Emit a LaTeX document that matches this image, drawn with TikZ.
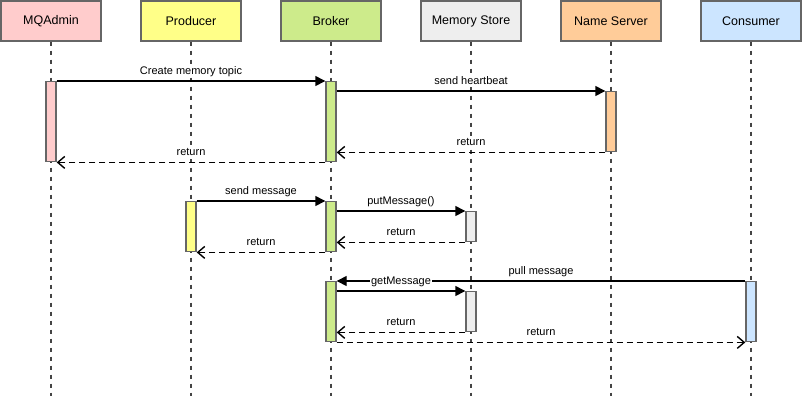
\documentclass[tikz,border=0pt]{standalone}
\usepackage{fontspec}
\setmainfont{Liberation Sans}
\usetikzlibrary{arrows.meta}
\definecolor{adminred}{HTML}{FFCCCC}
\definecolor{prodyellow}{HTML}{FFFF88}
\definecolor{brokergreen}{HTML}{CDEB8B}
\definecolor{storegray}{HTML}{EEEEEE}
\definecolor{nsorange}{HTML}{FFCC99}
\definecolor{consblue}{HTML}{CCE5FF}
\definecolor{edgegray}{HTML}{666666}
\definecolor{linegray}{HTML}{444444}
\tikzstyle{actor} = [rectangle, minimum width=100pt, minimum height=40pt, draw=edgegray, line width=1.4pt, font=\fontsize{12.5}{14}\selectfont]
\tikzstyle{act} = [rectangle, minimum width=10pt, inner sep=0pt, draw=edgegray, line width=1.4pt, anchor=north]
\tikzstyle{lifeline} = [draw=linegray, line width=1.3pt, dash pattern=on 4pt off 5pt]
\tikzstyle{call} = [-{Triangle[length=10pt,width=10pt]}, line width=1.4pt]
\tikzstyle{reply} = [-{Straight Barb[length=7pt,width=12pt]}, line width=1.4pt, dash pattern=on 6pt off 4pt]
\tikzstyle{msg} = [font=\fontsize{11}{13}\selectfont, fill=white, inner sep=1pt, text height=8pt, text depth=2pt, midway, above=3pt]

\begin{document}
\begin{tikzpicture}[x=1pt, y=-1pt]
    \useasboundingbox (0,0) rectangle (803,402);
    % participants
    \node (admin) [actor, fill=adminred] at (51,21) {MQAdmin};
    \node (producer) [actor, fill=prodyellow] at (191,21) {Producer};
    \node (broker) [actor, fill=brokergreen] at (331,21) {Broker};
    \node (store) [actor, fill=storegray] at (471,21) {Memory Store};
    \node (names) [actor, fill=nsorange] at (611,21) {Name Server};
    \node (consumer) [actor, fill=consblue] at (751,21) {Consumer};
    \coordinate (bottom) at (0,396);
    \foreach \p in {admin,producer,broker,store,names,consumer}
        \draw [lifeline] (\p.south) -- (\p.south |- bottom);
    % activations
    \node (adminAct) [act, fill=adminred, minimum height=80pt] at (51,81) {};
    \node (brokerActA) [act, fill=brokergreen, minimum height=80pt] at (331,81) {};
    \node (namesAct) [act, fill=nsorange, minimum height=60pt] at (611,91) {};
    \node (prodAct) [act, fill=prodyellow, minimum height=50pt] at (191,201) {};
    \node (brokerActB) [act, fill=brokergreen, minimum height=50pt] at (331,201) {};
    \node (storeActA) [act, fill=storegray, minimum height=30pt] at (471,211) {};
    \node (brokerActC) [act, fill=brokergreen, minimum height=60pt] at (331,281) {};
    \node (storeActB) [act, fill=storegray, minimum height=40pt] at (471,291) {};
    \node (consAct) [act, fill=consblue, minimum height=60pt] at (751,281) {};
    % messages
    \draw [call] (adminAct.north east) -- (brokerActA.north west) node [msg] {Create memory topic};
    \draw [call] (brokerActA.east |- namesAct.north) -- (namesAct.north west) node [msg] {send heartbeat};
    \draw [reply] (namesAct.south west) -- (brokerActA.east |- namesAct.south) node [msg] {return};
    \draw [reply] (brokerActA.south west) -- (adminAct.south east) node [msg] {return};
    \draw [call] (prodAct.north east) -- (brokerActB.north west) node [msg] {send message};
    \draw [call] (brokerActB.east |- storeActA.north) -- (storeActA.north west) node [msg] {putMessage()};
    \draw [reply] (storeActA.south west) -- (brokerActB.east |- storeActA.south) node [msg] {return};
    \draw [reply] (brokerActB.south west) -- (prodAct.south east) node [msg] {return};
    \draw [call] (consAct.north west) -- (brokerActC.north east) node [msg] {pull message};
    \draw [call] (brokerActC.east |- storeActB.north) -- (storeActB.north west) node [msg] {getMessage};
    \draw [reply] (storeActB.south west) -- (brokerActC.east |- storeActB.south) node [msg] {return};
    \draw [reply] (brokerActC.south east) -- (consAct.south west) node [msg] {return};
\end{tikzpicture}
\end{document}
